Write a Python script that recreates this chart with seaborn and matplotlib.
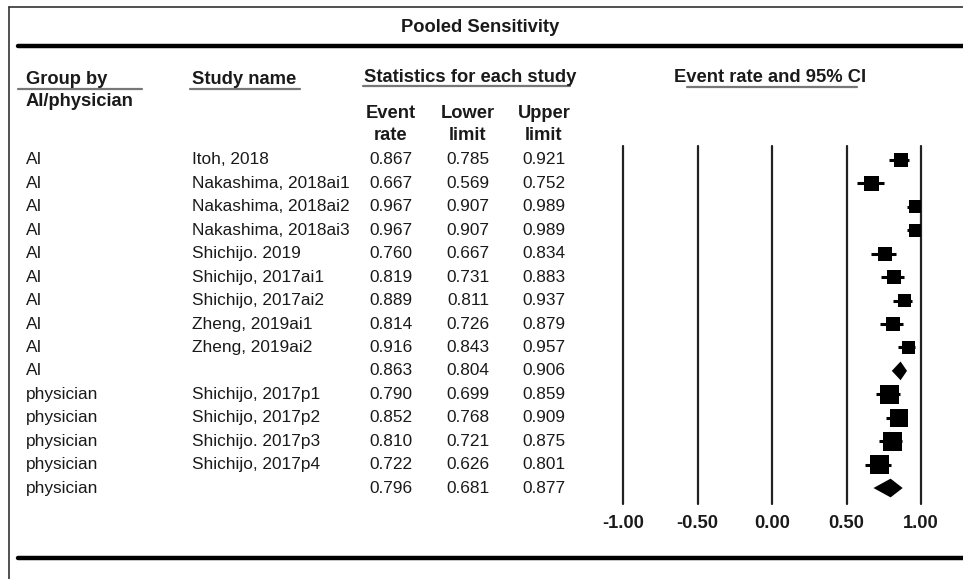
import numpy as np
import pandas as pd
import matplotlib
matplotlib.use("Agg")
import matplotlib.pyplot as plt
import seaborn as sns

# table data
groups = ['AI'] * 10 + ['physician'] * 5
studies = ['Itoh, 2018', 'Nakashima, 2018ai1', 'Nakashima, 2018ai2', 'Nakashima, 2018ai3',
           'Shichijo. 2019', 'Shichijo, 2017ai1', 'Shichijo, 2017ai2', 'Zheng, 2019ai1',
           'Zheng, 2019ai2', '', 'Shichijo, 2017p1', 'Shichijo, 2017p2', 'Shichijo. 2017p3',
           'Shichijo, 2017p4', '']
rates = [0.867, 0.667, 0.967, 0.967, 0.760, 0.819, 0.889, 0.814, 0.916, 0.863,
         0.790, 0.852, 0.810, 0.722, 0.796]
lower = [0.785, 0.569, 0.907, 0.907, 0.667, 0.731, 0.811, 0.726, 0.843, 0.804,
         0.699, 0.768, 0.721, 0.626, 0.681]
upper = [0.921, 0.752, 0.989, 0.989, 0.834, 0.883, 0.937, 0.879, 0.957, 0.906,
         0.859, 0.909, 0.875, 0.801, 0.877]
# relative weights, pooled rows have none
weights = [7.0, 7.6, 6.2, 6.2, 7.0, 7.0, 6.2, 7.0, 6.2, np.nan,
           12.8, 12.0, 12.8, 12.8, np.nan]
ticks = [-1.0, -0.5, 0.0, 0.5, 1.0]

df = pd.DataFrame({'group': groups, 'study': studies, 'rate': rates,
                   'lower': lower, 'upper': upper, 'weight': weights})
df['row'] = np.arange(len(df))
studies_df = df[df['study'] != ''].copy()
pooled_df = df[df['study'] == '']

sns.set_theme(style="white")
plt.rcParams['font.family'] = ['Liberation Sans', 'DejaVu Sans']

W, H = 963, 579
fig = plt.figure(figsize=(W / 100, H / 100), dpi=100)

# layout in pixels
row0, dy = 160, 23.43
ax_top, ax_bot = 146, 504
ax_left, ax_right = 623, 921

def row_y(i):
    return row0 + dy * i

# overlay for table text and rules
bg = fig.add_axes([0, 0, 1, 1])
bg.set_xlim(0, W)
bg.set_ylim(H, 0)
bg.axis('off')

fs = 12.4
fsb = 13.2
dark = '#1a1a1a'

# frame and rules
bg.plot([9, W], [7, 7], color='#333333', lw=1.2)
bg.plot([9, 9], [7, H], color='#333333', lw=1.2)
bg.plot([18, W], [46, 46], color='black', lw=3.2)
bg.plot([18, W], [558, 558], color='black', lw=3.2)

bg.text(480, 27, 'Pooled Sensitivity', ha='center', va='center', fontsize=fsb,
        fontweight='bold', color=dark)

# column headers
bg.text(26, 80, 'Group by', ha='left', va='center', fontsize=fsb, fontweight='bold', color=dark)
bg.text(26, 102, 'AI/physician', ha='left', va='center', fontsize=fsb, fontweight='bold', color=dark)
bg.text(192, 80, 'Study name', ha='left', va='center', fontsize=fsb, fontweight='bold', color=dark)
bg.text(470, 78, 'Statistics for each study', ha='center', va='center', fontsize=fsb,
        fontweight='bold', color=dark)
bg.text(770, 78, 'Event rate and 95% CI', ha='center', va='center', fontsize=fsb,
        fontweight='bold', color=dark)
for x0, x1, y in [(18, 142, 89), (190, 300, 89), (363, 570, 86), (687, 857, 87)]:
    bg.plot([x0, x1], [y, y], color='#777777', lw=1.6)

col_x = [391, 468, 544]
for cx, top, bottom in zip(col_x, ['Event', 'Lower', 'Upper'], ['rate', 'limit', 'limit']):
    bg.text(cx, 113, top, ha='center', va='center', fontsize=fsb, fontweight='bold', color=dark)
    bg.text(cx, 135, bottom, ha='center', va='center', fontsize=fsb, fontweight='bold', color=dark)

# table rows
for _, r in df.iterrows():
    y = row_y(r['row'])
    bg.text(26, y, r['group'], ha='left', va='center', fontsize=fs, color=dark)
    bg.text(192, y, r['study'], ha='left', va='center', fontsize=fs, color=dark)
    for cx, v in zip(col_x, [r['rate'], r['lower'], r['upper']]):
        bg.text(cx, y, f'{v:.3f}', ha='center', va='center', fontsize=fs, color=dark)

# forest plot
ax = fig.add_axes([ax_left / W, 1 - ax_bot / H, (ax_right - ax_left) / W, (ax_bot - ax_top) / H])
ax.set_xlim(-1, 1)
ax.set_ylim((ax_bot - row0) / dy, (ax_top - row0) / dy)
ax.patch.set_alpha(0)
for s in ax.spines.values():
    s.set_visible(False)

for t in ticks:
    ax.axvline(t, color='#222222', lw=1.6, clip_on=False, zorder=1)

ax.hlines(studies_df['row'], studies_df['lower'], studies_df['upper'], color='black', lw=2.2, zorder=2)
side_pt = 5.3 * np.sqrt(studies_df['weight']) * 0.72
sns.scatterplot(data=studies_df, x='rate', y='row', marker='s', s=side_pt ** 2,
                color='black', linewidth=0, ax=ax, legend=False, zorder=3)

half = 0.4
for _, r in pooled_df.iterrows():
    ax.fill([r['lower'], r['rate'], r['upper'], r['rate']],
            [r['row'], r['row'] - half, r['row'], r['row'] + half],
            color='black', lw=0, zorder=3)

ax.set_xticks(ticks)
ax.set_xticklabels([f'{t:.2f}' for t in ticks], fontsize=fsb, fontweight='bold', color=dark)
ax.tick_params(axis='x', length=0, pad=8)
ax.set_yticks([])
ax.set_xlabel('')
ax.set_ylabel('')

fig.savefig('out.png', dpi=100)
